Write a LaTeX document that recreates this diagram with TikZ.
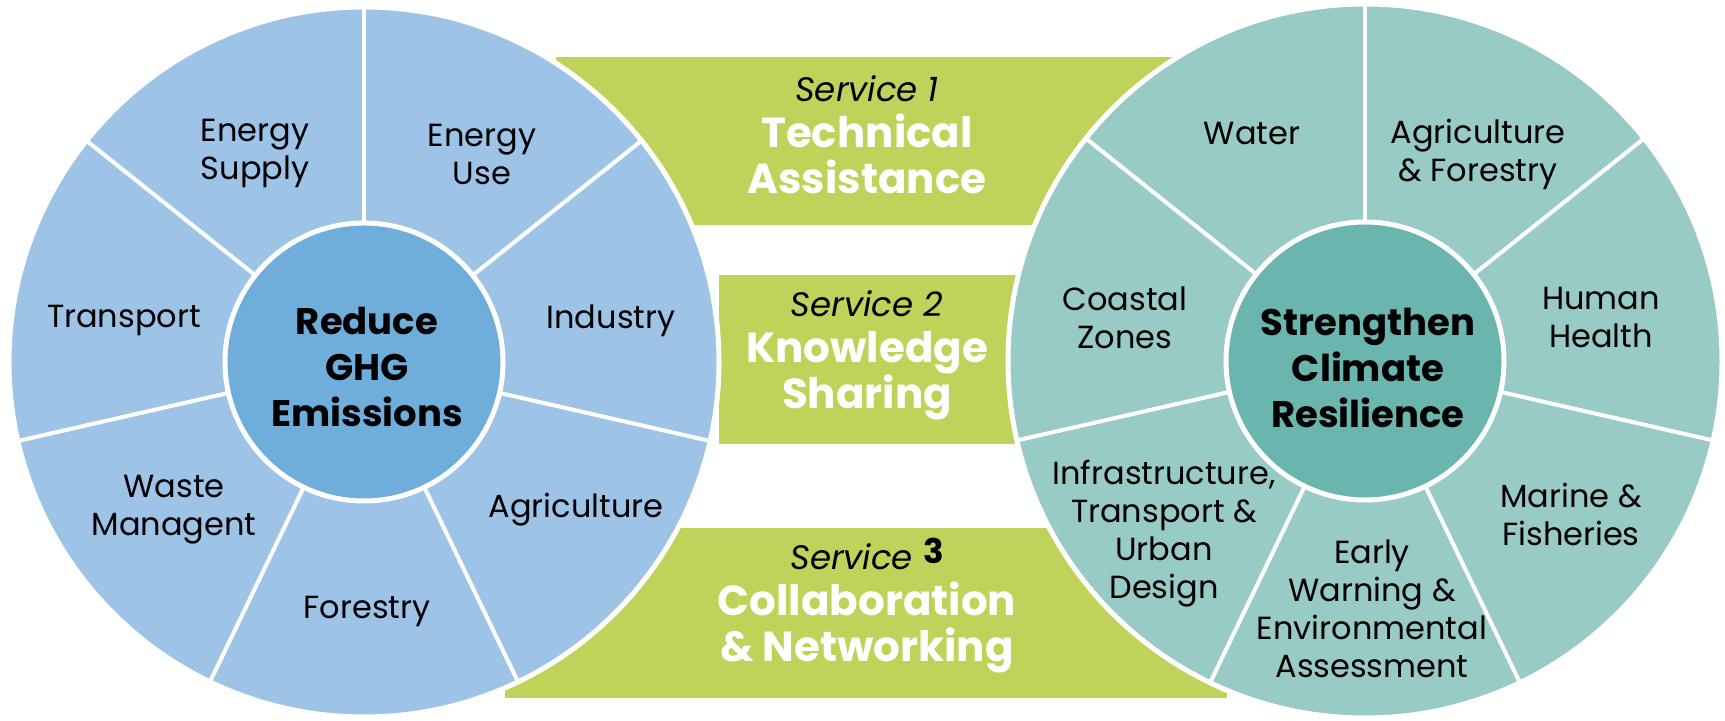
\documentclass[tikz,border=0pt]{standalone}
\usepackage{fontspec}
\setmainfont{Poppins}
\definecolor{bluelt}{RGB}{157,196,231}
\definecolor{bluedk}{RGB}{111,174,219}
\definecolor{teallt}{RGB}{152,203,197}
\definecolor{tealdk}{RGB}{106,181,174}
\definecolor{bandgreen}{RGB}{191,211,90}
\begin{document}
\begin{tikzpicture}[x=0.5pt,y=0.5pt,
	lbl/.style={align=center,font=\fontsize{16}{19}\selectfont},
	hub/.style={align=center,font=\fontsize{18.5}{23}\selectfont\bfseries},
	srv/.style={align=center,text=white,font=\fontsize{21}{23}\selectfont\bfseries},
	ring/.style={draw=white,line width=2.5pt},
	spoke/.style={white,line width=2pt}]
	\useasboundingbox (0,0) rectangle (1725,721);
	% service bands
	\fill[bandgreen] (556,496) rectangle (1178,664);
	\fill[bandgreen] (719,277) rectangle (1040,446);
	\fill[bandgreen] (505,23) rectangle (1227,193);
	% left wheel
	\filldraw[fill=bluelt,ring] (364,359) circle (355);
	\foreach \a in {0,...,6}
		\draw[spoke] (364,359) ++(90+\a*360/7:139) -- ++(90+\a*360/7:216);
	\filldraw[fill=bluedk,ring] (364,359) circle (139);
	% right wheel
	\filldraw[fill=teallt,ring] (1365,360) circle (357);
	\foreach \a in {0,...,6}
		\draw[spoke] (1365,360) ++(90+\a*360/7:139) -- ++(90+\a*360/7:218);
	\filldraw[fill=tealdk,ring] (1365,360) circle (139);
	% left labels
	\node[hub] (reduce) at (367,354) {Reduce\\GHG\\Emissions};
	\node[lbl] (esupply) at (255,567) {Energy\\Supply};
	\node[lbl] (euse) at (482,567) {Energy\\Use};
	\node[lbl] (transport) at (124,400) {Transport};
	\node[lbl] (industry) at (611,400) {Industry};
	\node[lbl] (waste) at (174,211) {Waste\\Managent};
	\node[lbl] (agri) at (576,211) {Agriculture};
	\node[lbl] (forestry) at (367,110) {Forestry};
	% right labels
	\node[hub] (strengthen) at (1368,353) {Strengthen\\Climate\\Resilience};
	\node[lbl] (water) at (1252,587) {Water};
	\node[lbl] (agrifor) at (1478,567) {Agriculture\\\& Forestry};
	\node[lbl] (coastal) at (1125,403) {Coastal\\Zones};
	\node[lbl] (health) at (1601,403) {Human\\Health};
	\node[lbl] (infra) at (1164,187) {Infrastructure,\\Transport \&\\Urban\\Design};
	\node[lbl] (early) at (1372,112) {Early\\Warning \&\\Environmental\\Assessment};
	\node[lbl] (marine) at (1571,207) {Marine \&\\Fisheries};
	% services
	\node[srv] (serv1) at (867,586) {{\color{black}\mdseries\itshape\fontsize{17}{23}\selectfont Service 1}\\Technical\\Assistance};
	\node[srv] (serv2) at (867,366) {{\color{black}\mdseries\itshape\fontsize{17}{23}\selectfont Service 2}\\Knowledge\\Sharing};
	\node[srv] (serv3) at (867,115) {{\color{black}\mdseries\itshape\fontsize{17}{23}\selectfont Service \raisebox{3pt}{\upshape\bfseries 3}}\\Collaboration\\\& Networking};
\end{tikzpicture}
\end{document}
